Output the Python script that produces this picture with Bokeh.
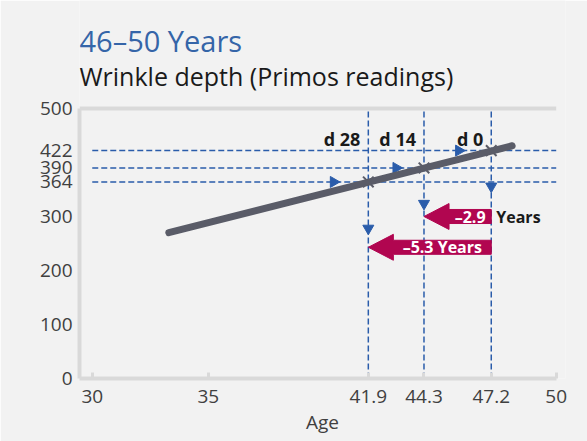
from bokeh.plotting import figure
from bokeh.models import Label, LinearAxis, FixedTicker, Range1d
from bokeh.core.properties import value
from bokeh.embed import file_html
from bokeh.resources import INLINE

# ---------------- data ----------------
title_text = "46–50 Years"
subtitle_text = "Wrinkle depth (Primos readings)"
x_label = "Age"

x_ticks = [30, 35, 41.9, 44.3, 47.2, 50]
x_tick_labels = ["30", "35", "41.9", "44.3", "47.2", "50"]
y_ticks = [0, 100, 200, 300, 364, 390, 422, 500]
y_tick_labels = ["0", "100", "200", "300", "364", "390", "422", "500"]

trend_age = [33.3, 48.1]
trend_depth = [270, 431]

day_labels = ["d 28", "d 14", "d 0"]
day_age = [41.9, 44.3, 47.2]
day_depth = [364, 390, 422]
day_label_depth = 444

h_arrow_age = [40.4, 43.1, 45.8]     # arrow heads on horizontal guides
v_arrow_depth = [278, 324, 356]      # arrow heads on vertical guides

shift_years = [-5.3, -2.9]
shift_depth = [243, 300]
shift_inside = ["–5.3 Years", "–2.9"]
shift_outside = ["", "Years"]

# ---------------- style ----------------
FONT = "Open Sans"
BG = "#f2f2f2"
FRAME = "#d9d9d9"
BLUE = "#2a5caa"
GREY = "#5a5c68"
MAGENTA = "#b10650"
TXT = "#404040"

X0, X1 = 29.45, 50.4
Y0, Y1 = y_ticks[0], y_ticks[-1]
Y_TOP = 700   # headroom above the axis for the titles

p = figure(width=587, height=441, x_range=Range1d(X0, X1), y_range=Range1d(Y0, Y_TOP),
           x_axis_type=None, y_axis_type=None, output_backend="svg",
           toolbar_location=None)
p.background_fill_color = BG
p.border_fill_color = BG
p.outline_line_color = None
p.min_border_left = 79
p.min_border_right = 22
p.min_border_top = 0
p.min_border_bottom = 63

# axes
xaxis = LinearAxis(ticker=FixedTicker(ticks=x_ticks), bounds=(X0, x_ticks[-1]),
                   major_label_overrides={float(k): v for k, v in zip(x_ticks, x_tick_labels)})
xaxis.axis_line_color = FRAME
xaxis.axis_line_width = 4
xaxis.major_tick_in = 6
xaxis.major_tick_out = 0
xaxis.major_tick_line_color = FRAME
xaxis.major_tick_line_width = 3
xaxis.minor_tick_line_color = None
xaxis.major_label_text_font = FONT
xaxis.major_label_text_font_size = "19px"
xaxis.major_label_text_color = TXT
xaxis.major_label_standoff = 11
xaxis.axis_label = x_label
xaxis.axis_label_text_font = FONT
xaxis.axis_label_text_font_size = "19px"
xaxis.axis_label_text_font_style = "normal"
xaxis.axis_label_text_color = TXT
xaxis.axis_label_standoff = 3
p.add_layout(xaxis, "below")

yaxis = LinearAxis(ticker=FixedTicker(ticks=y_ticks), bounds=(Y0, Y1),
                   major_label_overrides={float(k): v for k, v in zip(y_ticks, y_tick_labels)})
yaxis.axis_line_color = FRAME
yaxis.axis_line_width = 4
yaxis.major_tick_in = 0
yaxis.major_tick_out = 0
yaxis.minor_tick_line_color = None
yaxis.major_label_text_font = FONT
yaxis.major_label_text_font_size = "19px"
yaxis.major_label_text_color = TXT
yaxis.major_label_standoff = 7
p.add_layout(yaxis, "left")

# top border of the chart area at the top of the value axis
p.segment(x0=[X0], x1=[x_ticks[-1]], y0=[Y1], y1=[Y1], line_color=FRAME, line_width=4)

# titles, anchored to the top-left corner of the chart area
p.add_layout(Label(x=X0, y=Y1, y_offset=33, text=subtitle_text, text_font=FONT,
                   text_font_size="25px", text_color="#1a1a1a",
                   text_align="left", text_baseline="alphabetic"))
p.add_layout(Label(x=X0, y=Y1, y_offset=68, text=title_text, text_font=FONT,
                   text_font_size="29px", text_color="#3565a8",
                   text_align="left", text_baseline="alphabetic"))

# guide lines
p.segment(x0=x_ticks[0], x1=x_ticks[-1], y0=day_depth, y1=day_depth,
          line_color=BLUE, line_width=1.5, line_dash="6 3")
p.segment(x0=day_age, x1=day_age, y0=Y0, y1=Y1,
          line_color=BLUE, line_width=1.5, line_dash="6 3")
p.scatter(x=h_arrow_age, y=day_depth, marker="triangle", angle=-1.5708, size=11,
          fill_color=BLUE, line_color=BLUE)
p.scatter(x=day_age, y=v_arrow_depth, marker="inverted_triangle", size=11,
          fill_color=BLUE, line_color=BLUE)

# trend line
p.line(trend_age, trend_depth, line_color=GREY, line_width=7, line_cap="round")
p.scatter(x=day_age, y=day_depth, marker="x", size=15, line_color=GREY, line_width=2)

# day labels
p.text(x=day_age, y=[day_label_depth] * len(day_age), text=day_labels, text_font=value(FONT),
       text_font_size="18px", text_font_style="bold", text_color="#1a1a1a",
       text_align="right", text_baseline="middle", x_offset=-8)

# shift arrows (built from data)
HEAD_LEN = 1.08   # years
BODY_H = 13       # half height, depth units
HEAD_H = 24
tail = day_age[-1]
xs, ys, cx = [], [], []
for s, yc in zip(shift_years, shift_depth):
    tip = tail + s
    hb = tip + HEAD_LEN
    xs.append([tip, hb, hb, tail, tail, hb, hb])
    ys.append([yc, yc + HEAD_H, yc + BODY_H, yc + BODY_H, yc - BODY_H, yc - BODY_H, yc - HEAD_H])
    cx.append((hb + tail) / 2)
p.patches(xs, ys, fill_color=MAGENTA, line_color=MAGENTA)
p.text(x=cx, y=shift_depth, text=shift_inside, text_font=value(FONT),
       text_font_size="16px", text_font_style="bold", text_color="white",
       text_align="center", text_baseline="middle")
p.text(x=[tail] * len(shift_depth), y=shift_depth, text=shift_outside, text_font=value(FONT),
       text_font_size="16px", text_font_style="bold", text_color="#1a1a1a",
       text_align="left", text_baseline="middle", x_offset=5)

open("out.html", "w").write(file_html(p, INLINE))
